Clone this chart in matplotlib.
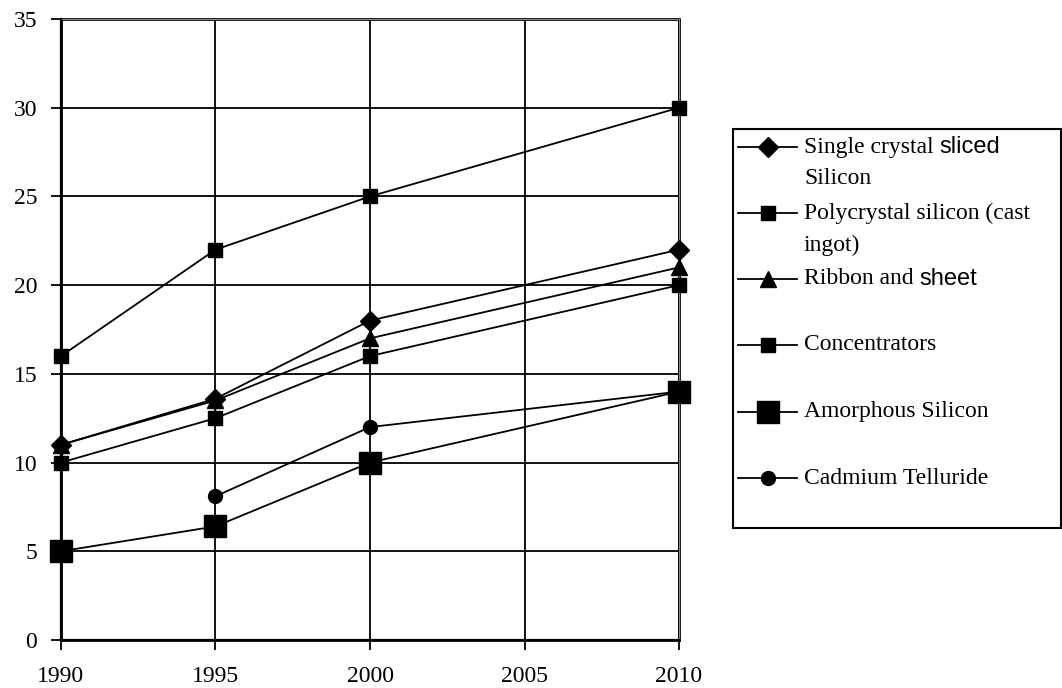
import matplotlib

matplotlib.use("Agg")
import matplotlib.pyplot as plt
from matplotlib.lines import Line2D

# data
years = [1990, 1995, 2000, 2010]
single_crystal = [11, 13.6, 18, 22]
polycrystal = [10, 12.5, 16, 20]
ribbon = [11, 13.5, 17, 21]
concentrators = [16, 22, 25, 30]
amorphous = [5, 6.4, 10, 14]
cdte_years = [1995, 2000, 2010]
cdte = [8.1, 12, 14]

x_ticks = [1990, 1995, 2000, 2005, 2010]
y_ticks = [0, 5, 10, 15, 20, 25, 30, 35]

SERIF = "Liberation Serif"
SANS = "Liberation Sans"

series = [
    (years, single_crystal, "D", 10),
    (years, polycrystal, "s", 10),
    (years, ribbon, "^", 11),
    (years, concentrators, "s", 10),
    (years, amorphous, "s", 16),
    (cdte_years, cdte, "o", 10),
]

# legend labels, split in lines and font runs (the original mixes fonts)
legend_labels = [
    [[("Single crystal ", SERIF), ("sliced", SANS)], [("Silicon", SERIF)]],
    [[("Polycrystal silicon (cast", SERIF)], [("ingot)", SERIF)]],
    [[("Ribbon and ", SERIF), ("sheet", SANS)]],
    [[("Concentrators", SERIF)]],
    [[("Amorphous Silicon", SERIF)]],
    [[("Cadmium Telluride", SERIF)]],
]

fig = plt.figure(figsize=(10.62, 6.88), dpi=100)
ax = fig.add_axes([0.0574, 0.0698, 0.5820, 0.9026])

for xs, ys, marker, ms in series:
    ax.plot(xs, ys, color="black", lw=1.3, marker=marker, markersize=ms,
            markerfacecolor="black", markeredgecolor="black", clip_on=False,
            zorder=5)

ax.set_xlim(1990, 2010)
ax.set_ylim(0, 35)
ax.set_xticks(x_ticks)
ax.set_yticks(y_ticks)
ax.grid(True, color="black", lw=1.3)
ax.tick_params(direction="out", length=7, width=1.3, labelsize=17)
ax.tick_params(axis="y", pad=10)
ax.tick_params(axis="x", pad=12)
for lab in ax.get_xticklabels() + ax.get_yticklabels():
    lab.set_fontfamily(SERIF)

# dotted plot-area border with a thin grey line under it
for side in ["top", "right", "bottom", "left"]:
    ax.spines[side].set_linestyle((0, (1, 1)))
    ax.spines[side].set_linewidth(2.0)
    ax.spines[side].set_color("black")
ax.axvline(2010, color="#888888", lw=0.8, clip_on=False, zorder=3)
ax.axhline(35, color="#888888", lw=0.8, clip_on=False, zorder=3)
ax.axvline(1990, color="black", lw=1.6, clip_on=False, zorder=4)
ax.axhline(0, color="black", lw=1.6, clip_on=False, zorder=4)

# hand-made legend box in figure pixels
W, H = 1062, 688


def fx(px):
    return px / W


def fy(py):
    return 1 - py / H


box = plt.Rectangle((fx(733), fy(528)), fx(1061) - fx(733), fy(129) - fy(528),
                    transform=fig.transFigure, fill=False, ec="black", lw=1.5)
fig.add_artist(box)

renderer = fig.canvas.get_renderer()
row_y = [147, 213, 279, 345, 412, 478]
for (xs, ys, marker, ms), label, ry in zip(series, legend_labels, row_y):
    fig.add_artist(Line2D([fx(738), fx(797)], [fy(ry), fy(ry)],
                          transform=fig.transFigure, color="black", lw=1.3))
    fig.add_artist(Line2D([fx(768)], [fy(ry)], transform=fig.transFigure,
                          marker=marker, markersize=ms, color="black"))
    for i, line in enumerate(label):
        x = fx(804)
        y = fy(ry + i * 32)
        for text, family in line:
            t = fig.text(x, y, text, fontsize=17, family=family, va="center",
                         ha="left")
            bb = t.get_window_extent(renderer)
            x = bb.x1 / fig.bbox.width

fig.savefig("out.png", dpi=100)
